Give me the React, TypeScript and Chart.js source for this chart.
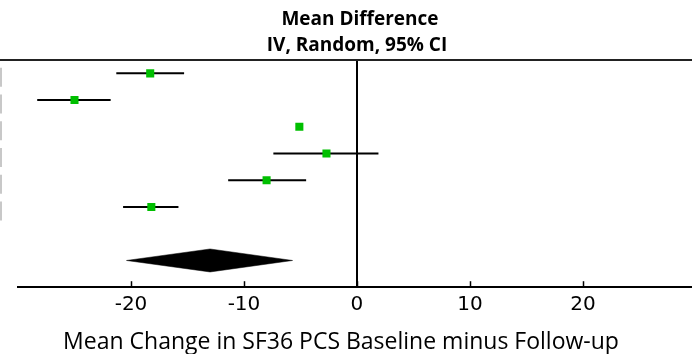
import React, { useEffect, useRef } from "react";
import { Chart, registerables } from "chart.js";

Chart.register(...registerables);

// ---- data ----
const rows = [1, 2, 3, 4, 5, 6];
const meanDiff = [-18.3, -25.0, -5.1, -2.7, -8.0, -18.2];
const ciLow = [-21.3, -28.3, -5.4, -7.4, -11.4, -20.7];
const ciHigh = [-15.3, -21.8, -4.8, 1.9, -4.5, -15.8];
const pooledRow = 8;
const pooledEstimate = -13.0;
const pooledLow = -20.4;
const pooledHigh = -5.7;
const xTicks = [-20, -10, 0, 10, 20];
const titleLines = ["Mean Difference", "IV, Random, 95% CI"];
const xAxisTitle = "Mean Change in SF36 PCS Baseline minus Follow-up";

const X_MIN = -30;
const X_MAX = 29.65;
const Y_MIN = 0.5;
const Y_MAX = 9;
const DIAMOND_HALF = 0.43;

const decorPlugin = {
  id: "forestDecor",
  afterDraw(chart: any) {
    const { ctx, chartArea, scales } = chart;
    const xs = scales.x;
    const ys = scales.y;
    ctx.save();
    // top rule
    ctx.strokeStyle = "#222";
    ctx.lineWidth = 2;
    ctx.beginPath();
    ctx.moveTo(0, chartArea.top);
    ctx.lineTo(chart.width, chartArea.top);
    ctx.stroke();
    // inward tick marks
    ctx.strokeStyle = "#000";
    ctx.lineWidth = 1.5;
    xTicks.forEach((v) => {
      const px = Math.round(xs.getPixelForValue(v)) + 0.5;
      ctx.beginPath();
      ctx.moveTo(px, chartArea.bottom);
      ctx.lineTo(px, chartArea.bottom - 6);
      ctx.stroke();
    });
    // left grey row markers
    ctx.strokeStyle = "#c8c8c8";
    ctx.lineWidth = 2;
    rows.forEach((r) => {
      const py = ys.getPixelForValue(r) + 4;
      ctx.beginPath();
      ctx.moveTo(1, py - 9.5);
      ctx.lineTo(1, py + 9.5);
      ctx.stroke();
    });
    // titles
    const cx = xs.getPixelForValue(0);
    ctx.fillStyle = "#000";
    ctx.textAlign = "center";
    ctx.textBaseline = "middle";
    ctx.font = "bold 19px 'Open Sans'";
    ctx.fillText(titleLines[0], cx + 3, 20);
    ctx.fillText(titleLines[1], cx, 46);
    // x-axis title (space reserved by the scale's transparent title)
    ctx.font = "23px 'Open Sans'";
    ctx.fillText(xAxisTitle, chart.width / 2 - 5, 342);
    ctx.restore();
  },
};

export default function App() {
  const ref = useRef<HTMLCanvasElement | null>(null);
  useEffect(() => {
    if (!ref.current) return;
    const ciSets = rows.map((r, i) => ({
      type: "line" as const,
      data: [
        { x: ciLow[i], y: r },
        { x: ciHigh[i], y: r },
      ],
      borderColor: "#000",
      borderWidth: 2,
      pointRadius: 0,
      fill: false,
      tension: 0,
      order: 2,
    }));
    const chart = new Chart(ref.current, {
      type: "line",
      data: {
        datasets: [
          {
            data: rows.map((r, i) => ({ x: meanDiff[i], y: r })),
            showLine: false,
            pointStyle: "rect",
            pointRadius: 5.7,
            pointBorderWidth: 0,
            pointBackgroundColor: "#00bf00",
            pointBorderColor: "#00bf00",
            order: 0,
          },
          ...ciSets,
          {
            data: [
              { x: 0, y: Y_MIN },
              { x: 0, y: Y_MAX },
            ],
            borderColor: "#000",
            borderWidth: 2,
            pointRadius: 0,
            fill: false,
            order: 3,
          },
          {
            data: [
              { x: pooledLow, y: pooledRow },
              { x: pooledEstimate, y: pooledRow - DIAMOND_HALF },
              { x: pooledHigh, y: pooledRow },
            ],
            borderColor: "#000",
            borderWidth: 0.5,
            pointRadius: 0,
            fill: false,
            tension: 0,
            order: 1,
          },
          {
            data: [
              { x: pooledLow, y: pooledRow },
              { x: pooledEstimate, y: pooledRow + DIAMOND_HALF },
              { x: pooledHigh, y: pooledRow },
            ],
            borderColor: "#000",
            borderWidth: 0.5,
            backgroundColor: "#000",
            pointRadius: 0,
            fill: "-1",
            tension: 0,
            order: 1,
          },
        ] as any,
      },
      options: {
        animation: false,
        responsive: false,
        devicePixelRatio: 1,
        layout: { autoPadding: false, padding: { top: 60, left: 18, right: 0, bottom: 0 } },
        plugins: {
          legend: { display: false },
          tooltip: { enabled: false },
          title: { display: false },
        },
        scales: {
          x: {
            type: "linear",
            min: X_MIN,
            max: X_MAX,
            afterBuildTicks: (axis: any) => {
              axis.ticks = xTicks.map((v) => ({ value: v }));
            },
            afterFit: (axis: any) => {
              axis.paddingLeft = 0;
              axis.paddingRight = 0;
            },
            grid: { display: false, drawTicks: false },
            border: { display: true, color: "#000", width: 2 },
            ticks: {
              color: "#000",
              font: { family: "'DejaVu Sans'", size: 20 },
              padding: 6,
              maxRotation: 0,
              autoSkip: false,
            },
            title: {
              display: true,
              text: xAxisTitle,
              color: "rgba(0,0,0,0)",
              font: { family: "'Open Sans'", size: 23, lineHeight: 1 },
              padding: { top: 7.3, bottom: 0.5 },
            },
          },
          y: {
            type: "linear",
            display: false,
            min: Y_MIN,
            max: Y_MAX,
            reverse: true,
          },
        },
      },
      plugins: [decorPlugin],
    });
    return () => chart.destroy();
  }, []);
  return (
    <div style={{ position: "absolute", left: 0, top: 0, width: 692, height: 354 }}>
      <canvas ref={ref} width={692} height={354} style={{ display: "block" }} />
    </div>
  );
}
